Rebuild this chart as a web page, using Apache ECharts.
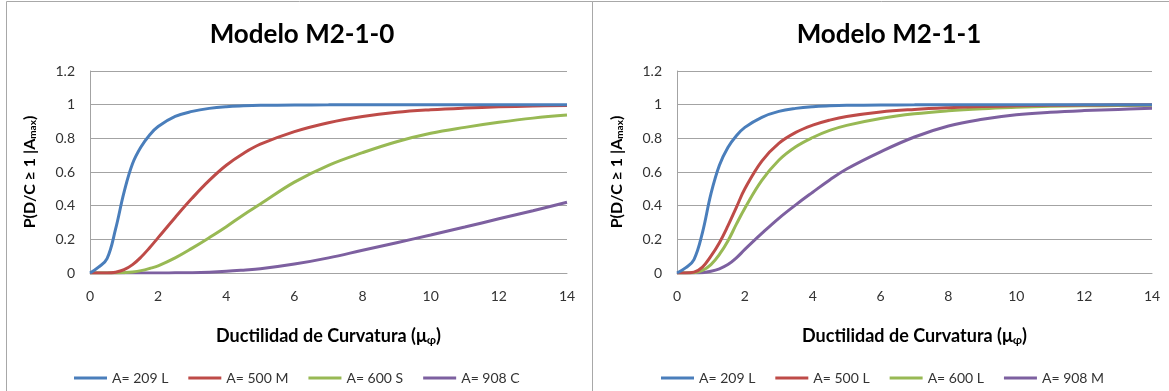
<!DOCTYPE html>
<html>
<head>
<meta charset="utf-8">
<script src="https://cdn.jsdelivr.net/npm/echarts@6/dist/echarts.min.js"></script>
<style>
  html, body { margin: 0; padding: 0; background: #fff; }
  #chart { width: 1169px; height: 391px; }
</style>
</head>
<body>
<div id="chart"></div>
<script>
// Curvature ductility sample points (shared by every curve)
const xs = [0, 0.25, 0.5, 0.75, 1, 1.25, 1.5, 1.75, 2, 2.5, 3, 3.5, 4, 4.5, 5, 6, 7, 8, 9, 10, 11, 12, 13, 14];

// Modelo M2-1-0 : P(D/C >= 1 | Amax)
const m0_a209L = [0, 0.035, 0.085, 0.26, 0.48, 0.65, 0.75, 0.82, 0.87, 0.93, 0.96, 0.978, 0.988, 0.993, 0.996, 0.998, 0.999, 1, 1, 1, 1, 1, 1, 1];
const m0_a500M = [0, 0, 0, 0.005, 0.02, 0.05, 0.095, 0.15, 0.21, 0.33, 0.445, 0.55, 0.64, 0.71, 0.765, 0.84, 0.893, 0.93, 0.955, 0.97, 0.98, 0.987, 0.992, 0.995];
const m0_a600S = [0, 0, 0, 0, 0.002, 0.006, 0.014, 0.027, 0.043, 0.09, 0.148, 0.21, 0.275, 0.345, 0.41, 0.54, 0.64, 0.715, 0.78, 0.83, 0.865, 0.895, 0.92, 0.938];
const m0_a908C = [0, 0, 0, 0, 0, 0, 0, 0, 0, 0.001, 0.002, 0.005, 0.01, 0.017, 0.025, 0.053, 0.09, 0.135, 0.18, 0.226, 0.273, 0.322, 0.37, 0.42];

// Modelo M2-1-1 : P(D/C >= 1 | Amax)
const m1_a209L = [0, 0.03, 0.08, 0.24, 0.47, 0.64, 0.745, 0.815, 0.865, 0.925, 0.96, 0.978, 0.988, 0.993, 0.996, 0.998, 0.999, 1, 1, 1, 1, 1, 1, 1];
const m1_a500L = [0, 0, 0.005, 0.035, 0.1, 0.18, 0.28, 0.39, 0.5, 0.665, 0.77, 0.835, 0.878, 0.908, 0.93, 0.957, 0.972, 0.982, 0.989, 0.993, 0.996, 0.998, 0.999, 1];
const m1_a600L = [0, 0, 0.002, 0.015, 0.05, 0.11, 0.19, 0.29, 0.385, 0.55, 0.67, 0.75, 0.805, 0.847, 0.877, 0.918, 0.946, 0.964, 0.976, 0.984, 0.99, 0.993, 0.995, 0.997];
const m1_a908M = [0, 0, 0, 0.002, 0.01, 0.025, 0.05, 0.09, 0.14, 0.235, 0.325, 0.405, 0.48, 0.553, 0.618, 0.72, 0.808, 0.873, 0.913, 0.94, 0.955, 0.965, 0.972, 0.978];

const names0 = ['A= 209 L', 'A= 500 M', 'A= 600 S', 'A= 908 C'];
const names1 = ['A= 209 L', 'A= 500 L', 'A= 600 L', 'A= 908 M'];
const titles = ['Modelo M2-1-0', 'Modelo M2-1-1'];
const xTicks = { min: 0, max: 14, step: 2 };
const yTicks = { min: 0, max: 1.2, step: 0.2 };

const palette = ['#4a7ebb', '#be4b48', '#98b954', '#7d60a0'];
const FONT = 'Lato';
const gridColor = '#a3a3a3';
const labelColor = '#333333';

const panels = [
  { names: names0, values: [m0_a209L, m0_a500M, m0_a600S, m0_a908C], grid: { left: 90, right: 602 }, titleX: 297, legendX: 74 },
  { names: names1, values: [m1_a209L, m1_a500L, m1_a600L, m1_a908M], grid: { left: 677, right: 17 }, titleX: 884, legendX: 661 }
];

const pairs = (ys) => xs.map((x, i) => [x, ys[i]]);

const subStyle = (size, pad) => ({ fontFamily: FONT, fontWeight: 'bold', fontSize: size, color: '#000', verticalAlign: 'bottom', padding: [pad, 0, 0, 0] });

const option = {
  animation: false,
  backgroundColor: '#fff',
  textStyle: { fontFamily: FONT },
  graphic: [
    { type: 'rect', shape: { x: 6.5, y: 1.5, width: 586, height: 420 }, style: { fill: 'none', stroke: '#a8a8a8', lineWidth: 1 }, silent: true },
    { type: 'rect', shape: { x: 592.5, y: 1.5, width: 600, height: 420 }, style: { fill: 'none', stroke: '#a8a8a8', lineWidth: 1 }, silent: true }
  ],
  title: [],
  legend: [],
  grid: [],
  xAxis: [],
  yAxis: [],
  series: []
};

panels.forEach((p, k) => {
  option.title.push({
    text: titles[k], left: p.titleX, top: 17, textAlign: 'center',
    textStyle: { fontFamily: FONT, fontWeight: 'bold', fontSize: 26, color: '#000' }
  });
  option.legend.push({
    data: p.names, left: p.legendX, top: 371, orient: 'horizontal', padding: 0,
    icon: 'rect', itemWidth: 33, itemHeight: 3, itemGap: 20,
    textStyle: { fontFamily: FONT, fontSize: 14, color: labelColor, padding: [0, 0, 0, 0] },
    selectedMode: false
  });
  option.grid.push({ left: p.grid.left, right: p.grid.right, top: 71, bottom: 118 });
  option.xAxis.push({
    type: 'value', gridIndex: k, min: xTicks.min, max: xTicks.max, interval: xTicks.step,
    axisLine: { show: true, lineStyle: { color: gridColor, width: 1 } },
    axisTick: { show: false }, splitLine: { show: false },
    axisLabel: { margin: 16, fontFamily: FONT, fontSize: 14, color: labelColor },
    name: 'Ductilidad de Curvatura (μ{sub|φ})', nameLocation: 'middle', nameGap: 54,
    nameTextStyle: { fontFamily: FONT, fontWeight: 'bold', fontSize: 18, color: '#000', rich: { sub: subStyle(12, 7) } }
  });
  option.yAxis.push({
    type: 'value', gridIndex: k, min: yTicks.min, max: yTicks.max, interval: yTicks.step,
    axisLine: { show: true, lineStyle: { color: gridColor, width: 1 } },
    axisTick: { show: false },
    splitLine: { show: true, lineStyle: { color: gridColor, width: 1 } },
    axisLabel: { margin: 15, fontFamily: FONT, fontSize: 14, color: labelColor, formatter: (v) => String(+v.toFixed(1)) },
    name: 'P(D/C ≥ 1 |A{sub|max})', nameLocation: 'middle', nameGap: 52,
    nameTextStyle: { fontFamily: FONT, fontWeight: 'bold', fontSize: 16, color: '#000', rich: { sub: subStyle(10, 6) } }
  });
  p.values.forEach((ys, i) => {
    option.series.push({
      type: 'line', name: p.names[i], xAxisIndex: k, yAxisIndex: k,
      data: pairs(ys), smooth: 0.4, showSymbol: false, symbol: 'none',
      color: palette[i],
      lineStyle: { width: 3, color: palette[i] },
      z: 10 - i
    });
  });
});

const chart = echarts.init(document.getElementById('chart'), null, { renderer: 'canvas' });
chart.setOption(option);
</script>
</body>
</html>
